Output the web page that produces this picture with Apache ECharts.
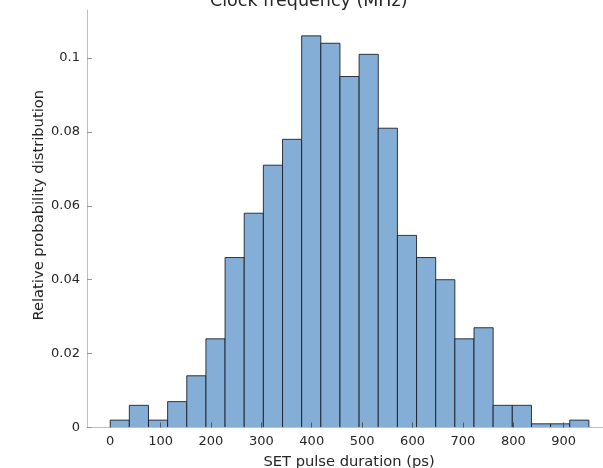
<!DOCTYPE html>
<html>
<head>
<meta charset="utf-8">
<script src="https://cdn.jsdelivr.net/npm/echarts@6/dist/echarts.min.js"></script>
<style>
html,body{margin:0;padding:0;background:#fff;}
#chart{width:603px;height:468px;}
</style>
</head>
<body>
<div id="chart"></div>
<script>
const binEdges = [0, 38, 76, 114, 152, 190, 228, 266, 304, 342, 380, 418, 456, 494, 532, 570, 608, 646, 684, 722, 760, 798, 836, 874, 912, 950];
const probabilities = [0.002, 0.006, 0.002, 0.007, 0.014, 0.024, 0.046, 0.058, 0.071, 0.078, 0.106, 0.104, 0.095, 0.101, 0.081, 0.052, 0.046, 0.040, 0.024, 0.027, 0.006, 0.006, 0.001, 0.001, 0.002];
const xTicks = [0, 100, 200, 300, 400, 500, 600, 700, 800, 900];
const yTicks = [0, 0.02, 0.04, 0.06, 0.08, 0.1];
const titleText = 'Clock frequency (MHz)';
const xName = 'SET pulse duration (ps)';
const yName = 'Relative probability distribution';

const histData = probabilities.map((p, i) => [binEdges[i], binEdges[i + 1], p]);

const chart = echarts.init(document.getElementById('chart'), null, {renderer: 'canvas'});
const font = 'DejaVu Sans';
chart.setOption({
  animation: false,
  backgroundColor: '#ffffff',
  title: {
    text: titleText,
    left: 205,
    top: -13,
    textStyle: {fontFamily: font, fontSize: 17.5, fontWeight: 'normal', color: '#262626'}
  },
  grid: {left: 87, right: 0, top: 10, bottom: 40.5, containLabel: false, outerBoundsMode: 'none'},
  xAxis: {
    type: 'value',
    min: -46,
    max: 978,
    z: 5,
    name: xName,
    nameLocation: 'middle',
    nameGap: 27.5,
    nameMoveOverlap: false,
    nameTextStyle: {fontFamily: font, fontSize: 14.7, color: '#262626', padding: [0, 0, 0, 8]},
    axisLine: {show: true, onZero: false, lineStyle: {color: '#c0c0c0', width: 1}},
    axisTick: {show: true, inside: true, length: 5, customValues: xTicks, lineStyle: {color: '#555555'}},
    axisLabel: {customValues: xTicks, margin: 8, fontFamily: font, fontSize: 13, color: '#262626'},
    splitLine: {show: false}
  },
  yAxis: {
    type: 'value',
    min: 0,
    max: 0.113,
    z: 5,
    name: yName,
    nameLocation: 'middle',
    nameGap: 40,
    nameMoveOverlap: false,
    nameRotate: 90,
    nameTextStyle: {fontFamily: font, fontSize: 14.7, color: '#262626', padding: [0, 0, 0, 27]},
    axisLine: {show: true, onZero: false, lineStyle: {color: '#c0c0c0', width: 1}},
    axisTick: {show: true, inside: true, length: 5, customValues: yTicks, lineStyle: {color: '#999999'}},
    axisLabel: {customValues: yTicks, margin: 7, fontFamily: font, fontSize: 13, color: '#262626'},
    splitLine: {show: false}
  },
  series: [{
    type: 'custom',
    data: histData,
    encode: {x: [0, 1], y: 2},
    renderItem: function (params, api) {
      const x0 = api.value(0), x1 = api.value(1), v = api.value(2);
      const pTop = api.coord([x0, v]);
      const pBot = api.coord([x1, 0]);
      return {
        type: 'rect',
        shape: {x: pTop[0], y: pTop[1], width: pBot[0] - pTop[0], height: pBot[1] - pTop[1]},
        style: {fill: '#84aed5', stroke: 'rgba(20,25,35,0.85)', lineWidth: 1}
      };
    }
  }]
});
</script>
</body>
</html>
